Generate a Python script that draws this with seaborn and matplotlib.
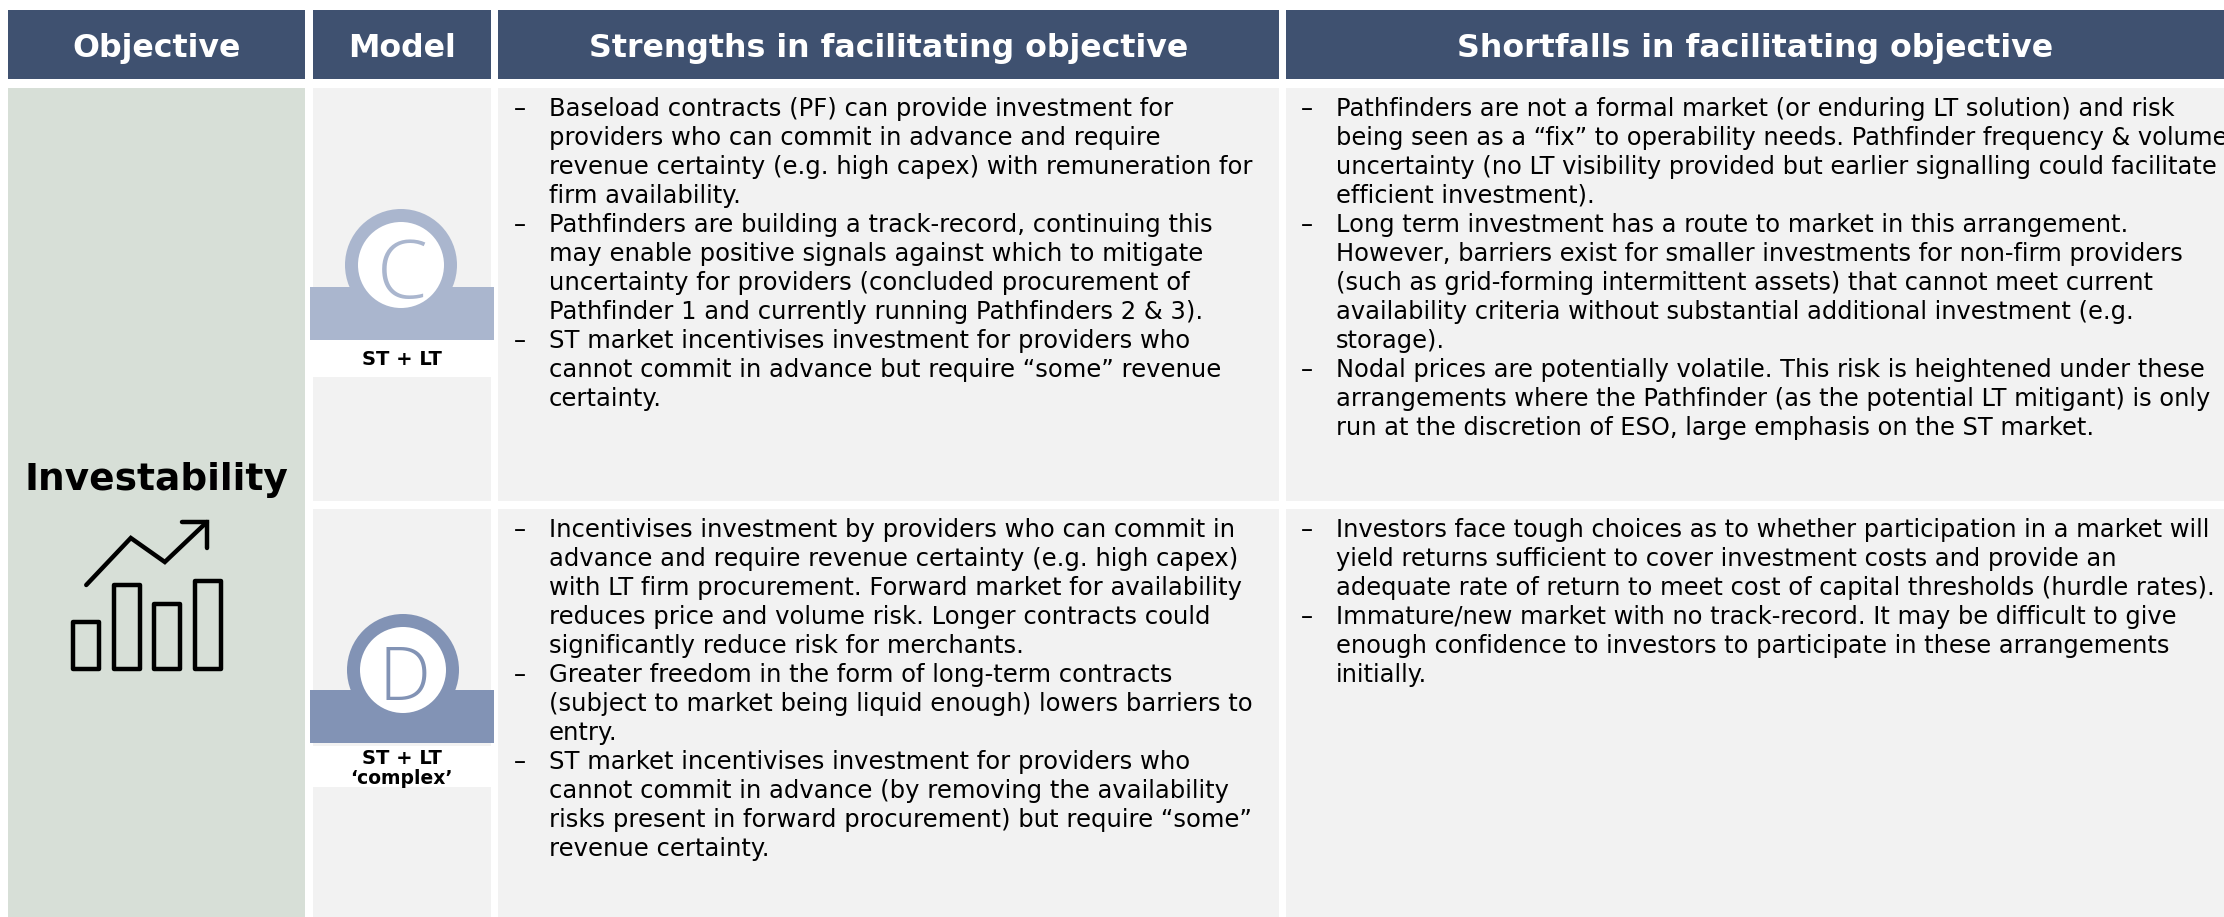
import matplotlib
matplotlib.use('Agg')
import matplotlib.pyplot as plt
from matplotlib.patches import Rectangle, Circle
import seaborn as sns

# column headers and row labels
headers = ['Objective', 'Model', 'Strengths in facilitating objective', 'Shortfalls in facilitating objective']
objective = 'Investability'
model_letters = ['C', 'D']
model_names = [['ST + LT'], ['ST + LT', '‘complex’']]

strengths_c = [
    ['Baseload contracts (PF) can provide investment for',
     'providers who can commit in advance and require',
     'revenue certainty (e.g. high capex) with remuneration for',
     'firm availability.'],
    ['Pathfinders are building a track-record, continuing this',
     'may enable positive signals against which to mitigate',
     'uncertainty for providers (concluded procurement of',
     'Pathfinder 1 and currently running Pathfinders 2 & 3).'],
    ['ST market incentivises investment for providers who',
     'cannot commit in advance but require “some” revenue',
     'certainty.'],
]
shortfalls_c = [
    ['Pathfinders are not a formal market (or enduring LT solution) and risk',
     'being seen as a “fix” to operability needs. Pathfinder frequency & volume',
     'uncertainty (no LT visibility provided but earlier signalling could facilitate',
     'efficient investment).'],
    ['Long term investment has a route to market in this arrangement.',
     'However, barriers exist for smaller investments for non-firm providers',
     '(such as grid-forming intermittent assets) that cannot meet current',
     'availability criteria without substantial additional investment (e.g.',
     'storage).'],
    ['Nodal prices are potentially volatile. This risk is heightened under these',
     'arrangements where the Pathfinder (as the potential LT mitigant) is only',
     'run at the discretion of ESO, large emphasis on the ST market.'],
]
strengths_d = [
    ['Incentivises investment by providers who can commit in',
     'advance and require revenue certainty (e.g. high capex)',
     'with LT firm procurement. Forward market for availability',
     'reduces price and volume risk. Longer contracts could',
     'significantly reduce risk for merchants.'],
    ['Greater freedom in the form of long-term contracts',
     '(subject to market being liquid enough) lowers barriers to',
     'entry.'],
    ['ST market incentivises investment for providers who',
     'cannot commit in advance (by removing the availability',
     'risks present in forward procurement) but require “some”',
     'revenue certainty.'],
]
shortfalls_d = [
    ['Investors face tough choices as to whether participation in a market will',
     'yield returns sufficient to cover investment costs and provide an',
     'adequate rate of return to meet cost of capital thresholds (hurdle rates).'],
    ['Immature/new market with no track-record. It may be difficult to give',
     'enough confidence to investors to participate in these arrangements',
     'initially.'],
]

# little chart icon under the objective
icon_bars = [47, 84, 65, 88]
icon_trend_x = [0.0, 1.1, 1.94, 2.98]
icon_trend_y = [84, 131, 107, 147]

HEADER_BLUE = '#3f5170'
GREEN = '#d7dfd7'
GREY = '#f2f2f2'
MODEL_COLORS = ['#aab6ce', '#8293b5']
BODY_SIZE = 17.5
SHORTFALL_SIZE = 17.38

sns.set_theme(style='white')
plt.rcParams['font.family'] = ['DejaVu Sans']

W, H = 2224, 917
fig = plt.figure(figsize=(W / 100, H / 100), dpi=100)
ax = fig.add_axes([0, 0, 1, 1])
ax.set_xlim(0, W)
ax.set_ylim(H, 0)
ax.axis('off')

col_edges = [(8, 305), (313, 491), (498, 1279), (1286, 2224)]
row_edges = [(88, 501), (509, 917)]

for (x0, x1), label in zip(col_edges, headers):
    ax.add_patch(Rectangle((x0, 10), x1 - x0, 69, fc=HEADER_BLUE, ec='none'))
    ax.text((x0 + x1) / 2, 57, label, color='white', fontsize=22.8, fontweight='bold', ha='center', va='baseline')

# objective column
ax.add_patch(Rectangle((8, 88), 297, 829, fc=GREEN, ec='none'))
ax.text(156, 490, objective, color='black', fontsize=27, fontweight='bold', ha='center', va='baseline')

# grey cells
for y0, y1 in row_edges:
    for x0, x1 in col_edges[1:]:
        ax.add_patch(Rectangle((x0, y0), x1 - x0, y1 - y0, fc=GREY, ec='none'))

# model badges
badge_centres = [(401, 265), (403, 670)]
letter_pos = [(402, 267), (405, 672)]
letter_sizes = [59, 53]
band_tops = [287, 690]
white_tops = [340, 746]
white_bottoms = [377, 787]
name_baselines = [[365], [764, 784]]
name_sizes = [14, 13.5]
for i, letter in enumerate(model_letters):
    cx, cy = badge_centres[i]
    col = MODEL_COLORS[i]
    top = band_tops[i]
    ax.add_patch(Rectangle((313, white_tops[i]), 178, white_bottoms[i] - white_tops[i], fc='white', ec='none', zorder=2))
    ax.add_patch(Circle((cx, cy), 56, fc=col, ec='none', zorder=2))
    ax.add_patch(Rectangle((310, top), 184, 53, fc=col, ec='none', zorder=3))
    ax.add_patch(Circle((cx, cy), 43, fc='white', ec='none', zorder=4))
    ax.text(letter_pos[i][0], letter_pos[i][1], letter, color=col, fontsize=letter_sizes[i], family='Open Sans',
            fontweight='light', ha='center', va='center_baseline', zorder=5)
    for j, name in enumerate(model_names[i]):
        ax.text(401.5, name_baselines[i][j], name, color='black', fontsize=name_sizes[j], fontweight='bold',
                ha='center', va='baseline', zorder=5)


def draw_bullets(bullets, dash_x, text_x, y_start, size, pitch=29.0):
    y = y_start
    for lines in bullets:
        ax.text(dash_x, y, '–', color='black', fontsize=size, ha='left', va='baseline')
        for line in lines:
            ax.text(text_x, y, line, color='black', fontsize=size, ha='left', va='baseline')
            y += pitch


draw_bullets(strengths_c, 514, 549, 116, BODY_SIZE)
draw_bullets(shortfalls_c, 1301, 1336, 116, SHORTFALL_SIZE)
draw_bullets(strengths_d, 514, 549, 537, BODY_SIZE)
draw_bullets(shortfalls_d, 1301, 1336, 537, SHORTFALL_SIZE)

# chart icon
icon_ax = fig.add_axes([66 / W, 1 - 669 / H, 162 / W, 154 / H])
icon_ax.patch.set_alpha(0)
sns.barplot(x=list(range(len(icon_bars))), y=icon_bars, fill=False, color='black', linewidth=3.2,
            width=0.65, ax=icon_ax, clip_on=False)
for bar in icon_ax.patches:
    bar.set_edgecolor('black')
    bar.set_joinstyle('round')
sns.lineplot(x=icon_trend_x, y=icon_trend_y, sort=False, color='black', linewidth=3.2, ax=icon_ax,
             solid_capstyle='round', solid_joinstyle='miter', clip_on=False, errorbar=None)
icon_ax.plot([2.36, 2.98, 2.98], [147, 147, 121], color='black', lw=3.2,
             solid_capstyle='round', solid_joinstyle='miter', clip_on=False)
icon_ax.set_xlim(-0.5, 3.5)
icon_ax.set_ylim(0, 154)
icon_ax.axis('off')

fig.savefig('out.png', dpi=100)
